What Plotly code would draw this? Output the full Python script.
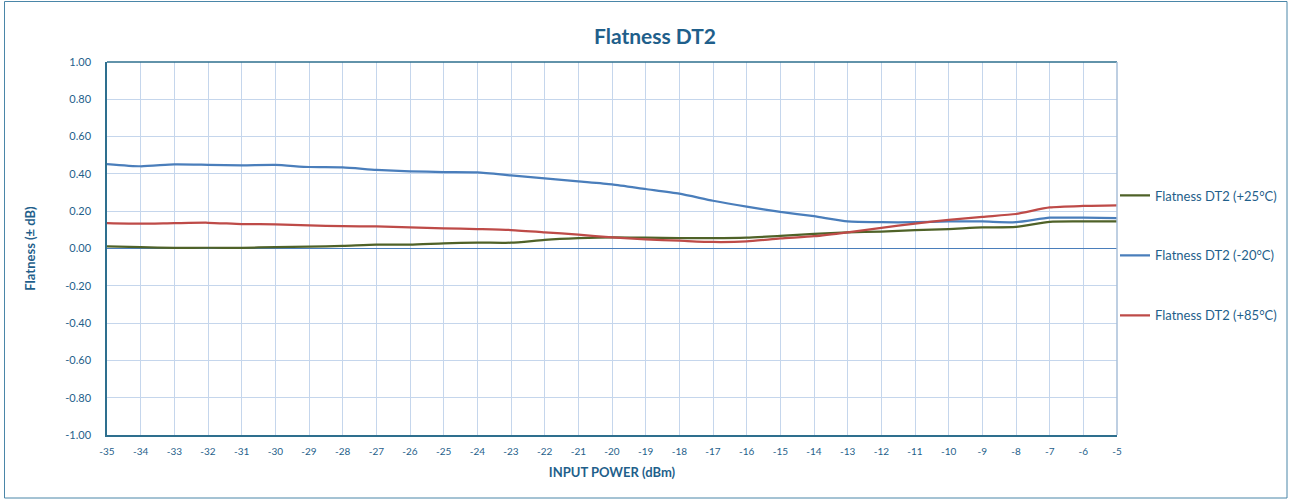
import plotly.graph_objects as go

x_dbm = list(range(-35, -4))

flat_25 = [0.011, 0.007, 0.003, 0.004, 0.004, 0.007, 0.010, 0.014, 0.021, 0.021, 0.028,
           0.032, 0.031, 0.046, 0.055, 0.060, 0.058, 0.056, 0.055, 0.058, 0.068, 0.078,
           0.087, 0.091, 0.098, 0.104, 0.113, 0.116, 0.143, 0.145, 0.145]
flat_m20 = [0.453, 0.441, 0.451, 0.449, 0.446, 0.448, 0.437, 0.435, 0.422, 0.414, 0.410,
            0.408, 0.392, 0.376, 0.360, 0.344, 0.319, 0.294, 0.256, 0.224, 0.196, 0.173,
            0.145, 0.141, 0.141, 0.145, 0.145, 0.141, 0.165, 0.165, 0.163]
flat_85 = [0.136, 0.133, 0.136, 0.138, 0.131, 0.130, 0.124, 0.120, 0.118, 0.113, 0.108,
           0.104, 0.099, 0.087, 0.074, 0.060, 0.049, 0.042, 0.035, 0.038, 0.054, 0.066,
           0.087, 0.111, 0.134, 0.153, 0.170, 0.185, 0.220, 0.228, 0.231]

series = [
    ("Flatness DT2 (+25°C)", flat_25, "#4f6228"),
    ("Flatness DT2 (-20°C)", flat_m20, "#4a7ebb"),
    ("Flatness DT2 (+85°C)", flat_85, "#be4b48"),
]

TXT = "#1f5f8b"
FONT = "Lato"

fig = go.Figure()
for i, (name, ys, col) in enumerate(series):
    fig.add_trace(go.Scatter(x=x_dbm, y=ys, name=name, mode="lines",
                             line=dict(color=col, width=2.25, shape="spline", smoothing=0.6),
                             legendgroup=f"g{i}"))

fig.update_layout(
    width=1291, height=499,
    margin=dict(l=107, r=174, t=62, b=64, autoexpand=False),
    paper_bgcolor="white", plot_bgcolor="white",
    font=dict(family=FONT, color=TXT, size=10),
    title=dict(text="<b>Flatness DT2</b>", x=(655 - 107) / 1010, xref="paper", xanchor="center",
               y=1 - 37 / 499, yanchor="middle", yref="container",
               font=dict(size=21, color=TXT, family=FONT)),
    showlegend=True,
    legend=dict(x=1115 / 1291, xref="container", xanchor="left",
                y=1 - 180.5 / 499, yref="container", yanchor="top",
                font=dict(size=13, color=TXT, family=FONT),
                tracegroupgap=40, traceorder="grouped",
                bgcolor="rgba(0,0,0,0)", itemwidth=30),
    xaxis=dict(range=[-35, -5], tickmode="array", tickvals=x_dbm,
               ticktext=[str(v) for v in x_dbm], tickfont=dict(size=10, color=TXT),
               showgrid=True, gridcolor="#c5d6ec", gridwidth=1,
               showline=True, linecolor="#2e6f8e", linewidth=1.5,
               zeroline=False, ticks="", ticklen=0, ticklabelstandoff=6,
               title=dict(text="<b>INPUT POWER (dBm)</b>", font=dict(size=13, color=TXT),
                          standoff=12)),
    yaxis=dict(range=[-1, 1], tickmode="array",
               tickvals=[1, 0.8, 0.6, 0.4, 0.2, 0, -0.2, -0.4, -0.6, -0.8, -1],
               ticktext=["1.00", "0.80", "0.60", "0.40", "0.20", "0.00", "-0.20", "-0.40",
                         "-0.60", "-0.80", "-1.00"],
               tickfont=dict(size=11, color=TXT),
               showgrid=True, gridcolor="#c5d6ec", gridwidth=1,
               showline=True, linecolor="#2e6f8e", linewidth=1.5,
               zeroline=True, zerolinecolor="#4a7ebb", zerolinewidth=1,
               ticks="", ticklen=0, ticklabelstandoff=12,
               title=dict(text="<b>Flatness (± dB)</b>", font=dict(size=13, color=TXT),
                          standoff=27)),
)

# plot border (top dark, right light)
fig.add_shape(type="line", xref="paper", yref="paper", x0=0, x1=1, y0=1, y1=1,
              line=dict(color="#2e6f8e", width=1.5), layer="above")
fig.add_shape(type="line", xref="paper", yref="paper", x0=1, x1=1, y0=0, y1=1,
              line=dict(color="#a9bfd8", width=1.5), layer="above")
# outer chart border
fig.add_shape(type="rect", xref="paper", yref="paper",
              x0=(4.5 - 107) / 1010, x1=(1287 - 107) / 1010,
              y0=(435 - 498) / 373, y1=(435 - 1.5) / 373,
              line=dict(color="#4a86a8", width=1), layer="below")

fig.write_html("out.html", config={"displayModeBar": False},
               post_script="document.body.style.margin='0px';document.body.style.overflow='hidden';")
